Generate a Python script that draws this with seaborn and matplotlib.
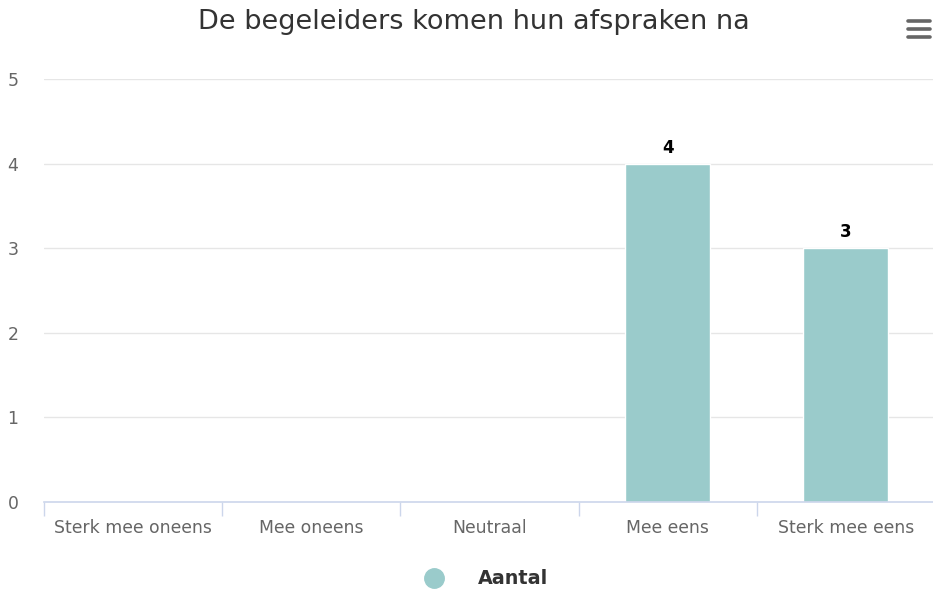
import matplotlib
matplotlib.use("Agg")
import matplotlib.pyplot as plt
from matplotlib.lines import Line2D
import seaborn as sns
import pandas as pd

categories = ["Sterk mee oneens", "Mee oneens", "Neutraal", "Mee eens", "Sterk mee eens"]
values = [0, 0, 0, 4, 3]
series_name = "Aantal"
title = "De begeleiders komen hun afspraken na"
yticks = [0, 1, 2, 3, 4, 5]

bar_color = "#9acbcb"

sns.set_theme(style="white")
plt.rcParams["font.family"] = ["DejaVu Sans"]

fig = plt.figure(figsize=(9.33, 5.92), dpi=100)
ax = fig.add_axes([44 / 933, 1 - 502 / 592, (935 - 44) / 933, (502 - 79) / 592])

df = pd.DataFrame({"cat": categories, "val": values})
sns.barplot(data=df, x="cat", y="val", order=categories, color=bar_color,
            saturation=1, width=0.477, edgecolor="white", linewidth=1, ax=ax, zorder=3)

ax.set_xlim(-0.5, len(categories) - 0.5)
ax.set_ylim(0, 5)
ax.set_yticks(yticks)
ax.set_yticklabels([str(v) for v in yticks])
ax.set_xlabel("")
ax.set_ylabel("")

for y in yticks[1:]:
    ax.axhline(y, color="#e6e6e6", lw=1, zorder=1)

for s in ["top", "right", "left"]:
    ax.spines[s].set_visible(False)
ax.spines["bottom"].set_color("#ccd6eb")
ax.spines["bottom"].set_linewidth(1.2)
ax.spines["bottom"].set_zorder(4)

ax.tick_params(axis="x", which="major", length=0, pad=12, labelsize=12.4, labelcolor="#666666")
ax.tick_params(axis="y", which="major", length=0, pad=18.5, labelsize=12.4, labelcolor="#666666")

ax.set_xticks([i - 0.5 for i in range(len(categories))], minor=True)
ax.tick_params(axis="x", which="minor", bottom=True, length=10, width=1,
               color="#ccd6eb", direction="out")

for i, v in enumerate(values):
    if v:
        ax.annotate(str(v), (i, v), xytext=(0, 5), textcoords="offset points",
                    ha="center", va="bottom", fontsize=12, fontweight="bold", color="black")

fig.text(474 / 933, 1 - 22 / 592, title, ha="center", va="center", fontsize=19.5, color="#333333")

# hamburger menu icon
for yy in [21, 29, 37]:
    fig.add_artist(Line2D([908 / 933, 930 / 933], [1 - yy / 592, 1 - yy / 592],
                          color="#666666", lw=2.6, solid_capstyle="round"))

handle = Line2D([], [], marker="o", linestyle="none", markersize=14,
                markerfacecolor=bar_color, markeredgecolor=bar_color)
leg = fig.legend([handle], [series_name], loc="center", bbox_to_anchor=(0.516, 1 - 579 / 592),
                 frameon=False, handletextpad=1.25, prop={"weight": "bold", "size": 13.8})
for t in leg.get_texts():
    t.set_color("#333333")

fig.savefig("out.png", dpi=100, facecolor="white")
